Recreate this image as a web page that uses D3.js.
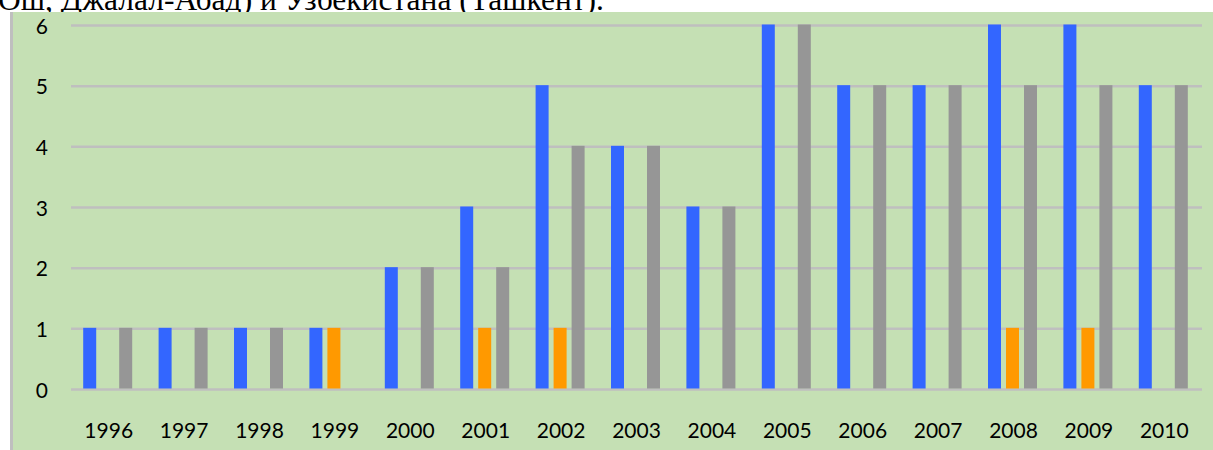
<!DOCTYPE html>
<html>
<head>
<meta charset="utf-8">
<script src="https://cdn.jsdelivr.net/npm/d3@7"></script>
<style>
  body { margin: 0; background: #fff; }
</style>
</head>
<body>
<div id="chart"></div>
<script>
// Data
var years = ["1996", "1997", "1998", "1999", "2000", "2001", "2002", "2003",
             "2004", "2005", "2006", "2007", "2008", "2009", "2010"];
var seriesBlue   = [1, 1, 1, 1, 2, 3, 5, 4, 3, 6, 5, 5, 6, 6, 5];
var seriesOrange = [0, 0, 0, 1, 0, 1, 1, 0, 0, 0, 0, 0, 1, 1, 0];
var seriesGrey   = [1, 1, 1, 0, 2, 2, 4, 4, 3, 6, 5, 5, 5, 5, 5];
var yTicks = [0, 1, 2, 3, 4, 5, 6];
var seriesNames = ["blue", "orange", "grey"];
var colors = {blue: "#3366FF", orange: "#FF9900", grey: "#969696"};

var svgWidth = 1213;
var svgHeight = 450;

var svg = d3.select("#chart")
  .append("svg")
  .attr("width", svgWidth)
  .attr("height", svgHeight);

// caption line of the page above, cut off by the chart box
svg.append("text")
  .attr("x", -2)
  .attr("y", 9.5)
  .attr("font-family", "Liberation Serif, Times New Roman, serif")
  .attr("font-size", 31.5)
  .attr("fill", "#000")
  .text("Ош, Джалал-Абад) и Узбекистана (Ташкент).");

// chart area background and left border
svg.append("rect")
  .attr("x", 10)
  .attr("y", 12)
  .attr("width", svgWidth - 10)
  .attr("height", svgHeight - 12)
  .attr("fill", "#C5E0B4");

svg.append("rect")
  .attr("x", 10)
  .attr("y", 12)
  .attr("width", 3)
  .attr("height", svgHeight - 12)
  .attr("fill", "#BFBFBF");

// scales
var x0 = d3.scaleBand()
  .domain(years)
  .range([70, 1201]);

var bw = x0.bandwidth();
var x1 = d3.scaleBand()
  .domain(seriesNames)
  .range([bw / 2 - 24.5, bw / 2 + 24.5])
  .paddingInner(5 / 18);

var y = d3.scaleLinear()
  .domain([0, 6])
  .range([389.5, 25.5]);

// gridlines
svg.append("g")
  .selectAll("line")
  .data(yTicks)
  .enter()
  .append("line")
  .attr("x1", 71)
  .attr("x2", 1202)
  .attr("y1", d => y(d))
  .attr("y2", d => y(d))
  .attr("stroke", "#BFBFBF")
  .attr("stroke-width", 2.5);

// y axis labels
var leftAxis = d3.axisLeft(y).tickValues(yTicks).tickFormat(d3.format("d"))
  .tickSize(0).tickPadding(0);
var yAxis = svg.append("g")
  .attr("transform", "translate(48, 0)")
  .call(leftAxis);
yAxis.select(".domain").remove();
yAxis.selectAll("text")
  .attr("font-family", "Lato, Carlito, Calibri, sans-serif")
  .attr("font-size", 21)
  .attr("fill", "#000")
  .attr("dy", "0.36em");

// x axis labels
var bottomAxis = d3.axisBottom(x0).tickSize(0).tickPadding(0);
var xAxis = svg.append("g")
  .attr("transform", "translate(1, 423)")
  .call(bottomAxis);
xAxis.select(".domain").remove();
xAxis.selectAll("text")
  .attr("font-family", "Lato, Carlito, Calibri, sans-serif")
  .attr("font-size", 21)
  .attr("fill", "#000")
  .attr("dy", "0.72em");

// bars
var rows = years.map(function(yr, i) {
  return {year: yr, values: [
    {key: "blue", value: seriesBlue[i]},
    {key: "orange", value: seriesOrange[i]},
    {key: "grey", value: seriesGrey[i]}
  ]};
});

svg.append("g")
  .selectAll("g")
  .data(rows)
  .enter()
  .append("g")
  .attr("transform", d => `translate(${x0(d.year)}, 0)`)
  .selectAll("rect")
  .data(d => d.values.filter(v => v.value > 0))
  .enter()
  .append("rect")
  .attr("x", d => x1(d.key))
  .attr("width", x1.bandwidth())
  .attr("y", d => y(d.value) - 1)
  .attr("height", d => y(0) - y(d.value))
  .attr("fill", d => colors[d.key]);
</script>
</body>
</html>
